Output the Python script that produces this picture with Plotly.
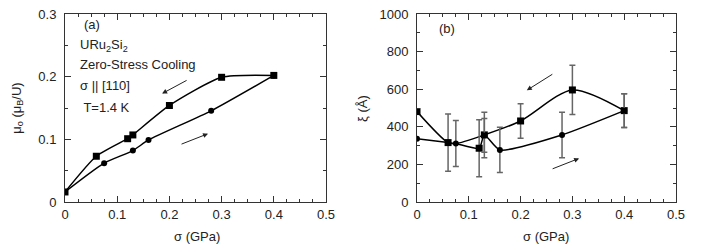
import plotly.graph_objects as go

# ---------------- data: panel (a) ----------------
a_sq_x = [0, 0.06, 0.12, 0.13, 0.2, 0.3, 0.4]
a_sq_y = [0.016, 0.073, 0.101, 0.107, 0.154, 0.199, 0.202]
a_ci_x = [0, 0.075, 0.13, 0.16, 0.28, 0.4]
a_ci_y = [0.016, 0.062, 0.082, 0.099, 0.1455, 0.202]

# ---------------- data: panel (b) ----------------
b_sq_x = [0, 0.06, 0.12, 0.13, 0.2, 0.3, 0.4]
b_sq_y = [481, 316, 286, 357, 431, 596, 486]
b_sq_err = [None, 152, 152, 121, 92, 131, 90]
b_ci_x = [0, 0.075, 0.13, 0.16, 0.28, 0.4]
b_ci_y = [337, 311, 354, 277, 357, 486]
b_ci_err = [None, 122, 90, 120, 121, 90]

# guide curves in panel (b)
b_up_x = [0, 0.06, 0.075, 0.13, 0.2, 0.3, 0.4]
b_up_y = [481, 316, 311, 357, 431, 596, 486]
b_lo_x = [0, 0.06, 0.075, 0.12, 0.13, 0.16, 0.28, 0.4]
b_lo_y = [337, 316, 311, 286, 357, 277, 357, 486]

x_ticks = [0, 0.1, 0.2, 0.3, 0.4, 0.5]
x_tick_text = ["0", "0.1", "0.2", "0.3", "0.4", "0.5"]
a_y_ticks = [0, 0.1, 0.2, 0.3]
a_y_text = ["0", "0.1", "0.2", "0.3"]
b_y_ticks = [0, 200, 400, 600, 800, 1000]

FONT = "Liberation Sans, Arial, sans-serif"
LINE = dict(color="black", width=1.5)
ERR = dict(type="data", color="#666666", thickness=1.5, width=3)

fig = go.Figure()

# panel (a)
fig.add_trace(go.Scatter(x=a_sq_x, y=a_sq_y, mode="lines+markers", line=dict(shape="spline", smoothing=0.6, **LINE),
                         marker=dict(symbol="square", size=7, color="black"), xaxis="x", yaxis="y"))
fig.add_trace(go.Scatter(x=a_ci_x, y=a_ci_y, mode="lines+markers", line=dict(shape="spline", smoothing=0.6, **LINE),
                         marker=dict(symbol="circle", size=6, color="black"), xaxis="x", yaxis="y"))

# panel (b)
fig.add_trace(go.Scatter(x=b_up_x, y=b_up_y, mode="lines", line=dict(shape="spline", smoothing=0.8, **LINE),
                         xaxis="x2", yaxis="y2"))
fig.add_trace(go.Scatter(x=b_lo_x, y=b_lo_y, mode="lines", line=dict(shape="spline", smoothing=0.6, **LINE),
                         xaxis="x2", yaxis="y2"))
fig.add_trace(go.Scatter(x=b_sq_x, y=b_sq_y, mode="markers", error_y=dict(array=b_sq_err, **ERR),
                         marker=dict(symbol="square", size=7, color="black"), xaxis="x2", yaxis="y2"))
fig.add_trace(go.Scatter(x=b_ci_x, y=b_ci_y, mode="markers", error_y=dict(array=b_ci_err, **ERR),
                         marker=dict(symbol="circle", size=6, color="black"), xaxis="x2", yaxis="y2"))

axis_common = dict(showgrid=False, zeroline=False, showline=True, linecolor="#333333", linewidth=1,
                   mirror="ticks", ticks="inside", ticklen=6, tickcolor="#333333", tickwidth=1,
                   automargin=False, ticklabeloverflow="allow",
                   tickfont=dict(family=FONT, size=13, color="#222222"))

# the page body adds an 8px offset, so the figure is 8px smaller and margins shifted
fig.update_layout(
    width=698, height=241,
    margin=dict(l=57, r=30, t=6, b=47),
    paper_bgcolor="white", plot_bgcolor="white",
    showlegend=False,
    xaxis=dict(domain=[0, 0.4272], range=[0, 0.5], tickvals=x_ticks, ticktext=x_tick_text,
               minor=dict(ticks="inside", dtick=0.025, ticklen=3, tickcolor="#333333"),
               **axis_common),
    yaxis=dict(domain=[0, 1], range=[0, 0.3], tickvals=a_y_ticks, ticktext=a_y_text,
               minor=dict(ticks="inside", dtick=0.05, ticklen=3, tickcolor="#333333"),
               ticklabelstandoff=5, **axis_common),
    xaxis2=dict(domain=[0.5761, 1.0], range=[0, 0.5], tickvals=x_ticks, ticktext=x_tick_text,
                anchor="y2",
                minor=dict(ticks="inside", dtick=0.025, ticklen=3, tickcolor="#333333"),
                **axis_common),
    yaxis2=dict(domain=[0, 1], range=[0, 1000], tickvals=b_y_ticks, anchor="x2",
                minor=dict(ticks="inside", dtick=100, ticklen=3, tickcolor="#333333"),
                ticklabelstandoff=5, **axis_common),
)

tf = dict(family=FONT, size=13, color="#222222")

# axis titles
axis_titles = [
    ("σ (GPa)", 0.216, -0.186, 0),
    ("σ (GPa)", 0.788, -0.186, 0),
    ("μ<sub>o</sub> (μ<sub>B</sub>/U)", -0.079, 0.5, -90),
    ("ξ (Å)", 0.486, 0.5, -90),
]
for t, x, y, ang in axis_titles:
    fig.add_annotation(text=t, x=x, y=y, xref="paper", yref="paper", showarrow=False,
                       xanchor="center", yanchor="middle", textangle=ang, font=tf)

texts = [
    ("(a)", 0.033, 0.283),
    ("URu<sub>2</sub>Si<sub>2</sub>", 0.025, 0.25),
    ("Zero-Stress Cooling", 0.025, 0.220),
    ("σ || [110]", 0.025, 0.186),
    (" T=1.4 K", 0.025, 0.151),
]
for t, x, y in texts:
    fig.add_annotation(text=t, x=x, y=y, xref="x", yref="y", showarrow=False, xanchor="left",
                       yanchor="middle", font=tf)
fig.add_annotation(text="(b)", x=0.039, y=925, xref="x2", yref="y2", showarrow=False, xanchor="left",
                   yanchor="middle", font=tf)

arrows = [
    ("x", "y", 0.186, 0.173, 26, -14),
    ("x", "y", 0.274, 0.109, -28, 11),
    ("x2", "y2", 0.212, 594, 27, -17),
    ("x2", "y2", 0.313, 232, -28, 11),
]
for xr, yr, x, y, ax, ay in arrows:
    fig.add_annotation(x=x, y=y, xref=xr, yref=yr, ax=ax, ay=ay, text="", showarrow=True,
                       arrowhead=2, arrowsize=1, arrowwidth=1, arrowcolor="#222222", standoff=0)

fig.write_html("out.html")
